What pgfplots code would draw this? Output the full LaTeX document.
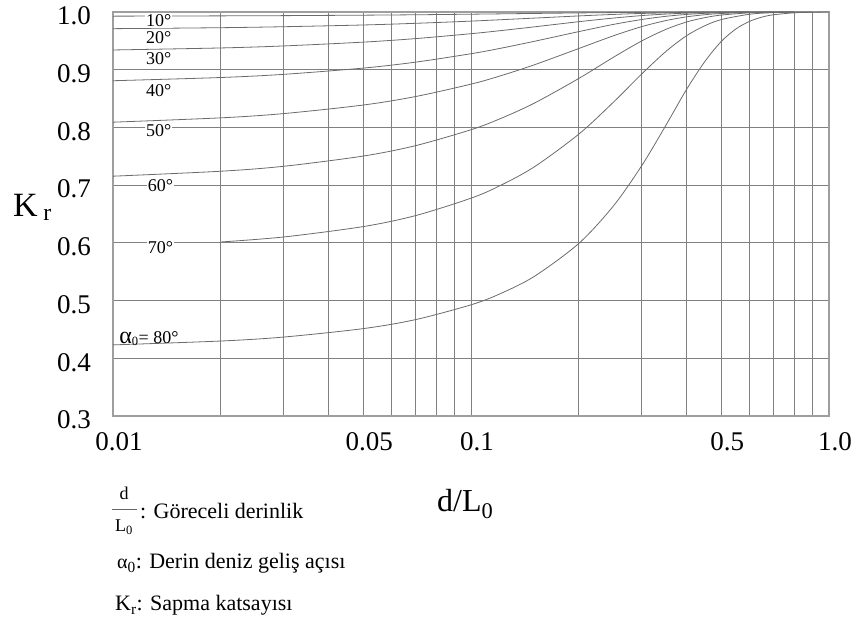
\documentclass[border=0pt]{standalone}
\usepackage{pgfplots}
\pgfplotsset{compat=1.18}
\usepackage{fontspec}
\setmainfont{Liberation Serif}

\definecolor{gridgray}{gray}{0.50}
\definecolor{framegray}{gray}{0.62}
\definecolor{curvegray}{gray}{0.42}

\newcommand{\tl}[1]{\textrm{#1}}

\begin{document}
\begin{tikzpicture}[x=1pt,y=1pt]
\useasboundingbox (0,0) rectangle (857,624);
\begin{axis}[
  at={(113pt,208pt)}, anchor=south west,
  scale only axis, width=716pt, height=404pt,
  xmode=log, log basis x=10,
  xmin=0.01, xmax=1, ymin=0.3, ymax=1.0,
  xtick={0.01,0.02,0.03,0.04,0.05,0.06,0.07,0.08,0.09,0.1,0.2,0.3,0.4,0.5,0.6,0.7,0.8,0.9,1},
  xticklabels={\tl{0.01},,,,\tl{0.05},,,,,\tl{0.1},,,,\tl{0.5},,,,,\tl{1.0}},
  ytick={0.3,0.4,0.5,0.6,0.7,0.8,0.9,1.0},
  yticklabels={\tl{0.3},\tl{0.4},\tl{0.5},\tl{0.6},\tl{0.7},\tl{0.8},\tl{0.9},\tl{1.0}},
  minor xtick={},
  major tick length=0pt, minor tick length=0pt,
  xmajorgrids, ymajorgrids,
  grid style={gridgray, line width=0.8pt},
  axis line style={framegray, line width=1.2pt},
  tick label style={font=\fontsize{27}{30}\selectfont, inner sep=0pt},
  xticklabel style={yshift=-16pt, xshift=6pt},
  yticklabel style={xshift=-22pt, yshift=-4pt},
  cycle list={{curvegray}},
  every axis plot post/.append style={curvegray, solid, line width=0.8pt, smooth, no marks},
  clip=false,
]
% alpha0 = 10 deg
\addplot coordinates {(0.01,0.9928)(0.02,0.9933)(0.03,0.9937)(0.05,0.9945)(0.07,0.9952)(0.1,0.9962)(0.15,0.9975)(0.2,0.9984)(0.3,0.9994)(0.4,0.9998)(0.5,1.0)(0.6,1.0)};
% alpha0 = 20 deg
\addplot coordinates {(0.01,0.9711)(0.02,0.9728)(0.03,0.9745)(0.05,0.9775)(0.07,0.9804)(0.1,0.9842)(0.15,0.9894)(0.2,0.9932)(0.25,0.9958)(0.3,0.9975)(0.4,0.9992)(0.5,0.9998)(0.6,1.0)};
% alpha0 = 30 deg
\addplot coordinates {(0.01,0.9342)(0.02,0.9377)(0.03,0.9412)(0.05,0.9478)(0.07,0.9539)(0.1,0.9624)(0.12,0.9675)(0.15,0.9742)(0.2,0.9832)(0.25,0.9895)(0.3,0.9938)(0.35,0.9964)(0.4,0.9980)(0.5,0.9994)(0.6,0.9999)(0.7,1.0)};
% alpha0 = 40 deg
\addplot coordinates {(0.01,0.8809)(0.02,0.8865)(0.03,0.8920)(0.05,0.9028)(0.07,0.9131)(0.1,0.9277)(0.12,0.9367)(0.15,0.9491)(0.2,0.9660)(0.25,0.9785)(0.3,0.9870)(0.35,0.9925)(0.4,0.9958)(0.45,0.9977)(0.5,0.9987)(0.6,0.9996)(0.7,0.9999)(0.8,1.0)};
% alpha0 = 50 deg
\addplot coordinates {(0.01,0.8091)(0.02,0.8166)(0.03,0.8240)(0.05,0.8388)(0.07,0.8535)(0.1,0.8750)(0.12,0.8888)(0.15,0.9083)(0.2,0.9367)(0.25,0.9588)(0.3,0.9747)(0.35,0.9851)(0.4,0.9916)(0.45,0.9953)(0.5,0.9974)(0.6,0.9993)(0.7,0.9998)(0.8,1.0)};
% alpha0 = 60 deg
\addplot coordinates {(0.01,0.7155)(0.02,0.7241)(0.03,0.7327)(0.05,0.7504)(0.07,0.7684)(0.1,0.7960)(0.12,0.8145)(0.15,0.8418)(0.2,0.8848)(0.25,0.9216)(0.3,0.9499)(0.35,0.9698)(0.4,0.9827)(0.45,0.9902)(0.5,0.9947)(0.6,0.9985)(0.7,0.9996)(0.8,1.0)};
% alpha0 = 70 deg
\addplot coordinates {(0.02,0.6015)(0.03,0.6102)(0.05,0.6282)(0.07,0.6472)(0.1,0.6774)(0.12,0.6985)(0.15,0.7314)(0.2,0.7883)(0.25,0.8438)(0.3,0.8928)(0.35,0.9314)(0.4,0.9589)(0.45,0.9762)(0.5,0.9868)(0.6,0.9961)(0.7,0.9989)(0.8,0.9997)(0.9,1.0)};
% alpha0 = 80 deg
\addplot coordinates {(0.01,0.4232)(0.02,0.4299)(0.03,0.4368)(0.05,0.4514)(0.07,0.4670)(0.1,0.4926)(0.12,0.5112)(0.15,0.5416)(0.2,0.5989)(0.25,0.6640)(0.3,0.7339)(0.35,0.8033)(0.4,0.8658)(0.45,0.9142)(0.5,0.9489)(0.55,0.9708)(0.6,0.9838)(0.65,0.9912)(0.7,0.9952)(0.8,0.9986)(0.9,0.9996)(1.0,1.0)};

% curve labels
\begin{scope}[every node/.style={font=\fontsize{18}{20}\selectfont, fill=white, inner sep=0.8pt, anchor=base west}]
\node at (axis cs:0.01229,0.9745) {10°};
\node at (axis cs:0.01229,0.9458) {20°};
\node at (axis cs:0.01229,0.9082) {30°};
\node at (axis cs:0.01229,0.8532) {40°};
\node at (axis cs:0.01229,0.7839) {50°};
\node at (axis cs:0.01243,0.6886) {60°};
\node at (axis cs:0.01243,0.5818) {70°};
\node[fill=none] at (axis cs:0.01035,0.4258) {{\fontsize{24}{24}\selectfont α}\textsubscript{0}= 80°};
\end{scope}
\end{axis}

% axis titles
\node[anchor=base west, inner sep=0pt, font=\fontsize{34}{38}\selectfont] at (13,407) {K\,\textsubscript{r}};
\node[anchor=base west, inner sep=0pt, font=\fontsize{32}{36}\selectfont] at (437,112) {d/L\textsubscript{0}};

% notation
\begin{scope}[every node/.style={inner sep=0pt, font=\fontsize{22}{26}\selectfont}]
\node[anchor=base, font=\fontsize{18}{20}\selectfont] at (124,124) {d};
\draw[black!60, line width=0.7pt] (112,115) -- (137,115);
\node[anchor=base, font=\fontsize{18}{20}\selectfont] at (124,92) {L\textsubscript{0}};
\node[anchor=base west] at (140,105) {: Göreceli derinlik};
\node[anchor=base west] at (117,55) {{\fontsize{20}{22}\selectfont α}\textsubscript{0}: Derin deniz geliş açısı};
\node[anchor=base west] at (115,13) {K\textsubscript{r}: Sapma katsayısı};
\end{scope}
\end{tikzpicture}
\end{document}
